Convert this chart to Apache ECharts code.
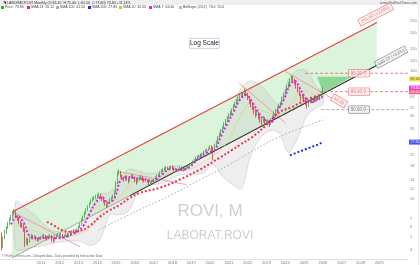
<!DOCTYPE html>
<html><head><meta charset="utf-8">
<script src="https://cdn.jsdelivr.net/npm/echarts@6/dist/echarts.min.js"></script>
<style>html,body{margin:0;padding:0;background:#fff}#c{width:420px;height:265px}</style>
</head><body><div id="c"></div>
<script>
// ---------- DATA ----------
const firstMonth = '2008-12';
const firstOpen = 5.30;
const closes = [4.27,
 4.93,5.50,5.91,6.33,6.82,7.19,7.59,7.87,7.32,6.94,6.57,6.23,
 6.12,5.80,4.52,4.75,4.59,4.93,5.11,4.93,5.02,4.84,4.75,4.93,
 4.93,5.02,5.11,4.93,4.84,5.02,5.11,4.93,4.75,4.93,5.11,5.20,
 5.11,5.20,5.02,5.11,5.30,5.11,5.20,5.39,5.50,5.60,5.50,5.69,
 6.01,6.33,6.82,7.19,7.73,8.17,8.63,9.10,9.61,9.97,10.15,10.33,
 10.52,10.70,10.33,9.97,9.61,9.10,8.78,9.27,9.79,10.15,10.52,11.30,
 13.30,15.70,16.20,15.10,14.60,14.00,14.90,14.30,13.80,14.60,15.10,14.90,
 14.30,13.60,14.00,14.60,14.90,14.30,13.80,14.00,13.60,13.10,13.30,13.80,
 14.00,14.60,15.10,15.40,15.90,16.50,16.80,17.10,17.50,17.10,17.50,17.80,
 17.50,16.80,17.10,16.50,16.80,17.50,17.10,16.80,17.10,17.80,18.10,18.40,
 18.80,19.40,20.10,20.90,21.20,21.60,22.00,22.40,23.30,23.70,24.10,24.60,
 25.50,24.10,23.30,26.00,27.90,30.00,32.20,34.00,36.00,38.60,40.80,43.00,
 45.40,47.10,49.70,53.40,55.40,58.40,61.80,64.00,66.40,65.10,70.10,66.40,
 61.80,58.40,55.40,51.50,48.80,46.20,47.10,43.80,41.50,40.00,43.00,39.30,
 39.30,40.80,38.60,41.50,43.80,47.10,48.80,51.50,53.40,55.40,61.80,66.40,
 70.10,75.40,79.40,85.40,90.30,85.40,80.80,75.40,70.10,65.10,61.80,64.00,
 60.70,56.40,54.40,57.40,59.50,60.70,58.40,59.50,61.80,60.70,62.90,66.40,
 73.80];
const lows = [3.95,
 4.10,4.80,5.30,5.80,6.20,6.70,7.00,7.40,7.10,6.70,6.30,6.00,
 5.90,5.50,4.20,4.35,4.30,4.50,4.80,4.80,4.85,4.70,4.60,4.65,
 4.75,4.85,4.90,4.80,4.70,4.80,4.90,4.60,4.50,4.65,4.85,5.00,
 4.95,5.00,4.90,4.90,5.00,4.95,5.00,5.10,5.25,5.35,5.30,5.40,
 5.60,5.90,6.20,6.70,7.10,7.50,8.00,8.50,9.00,9.40,9.70,9.90,
 10.00,10.20,10.00,9.60,9.30,8.80,8.50,8.60,9.10,9.50,10.00,10.40,
 11.10,13.00,15.30,14.70,14.20,13.60,13.80,13.90,13.20,13.60,14.30,14.40,
 13.50,12.90,13.40,13.80,14.30,13.70,13.40,13.60,13.30,12.80,12.70,13.10,
 13.60,13.90,14.50,14.90,15.20,15.70,16.20,16.50,16.90,16.80,16.90,17.20,
 17.10,16.40,16.50,16.20,16.30,16.60,16.80,16.40,16.60,16.90,17.50,17.80,
 18.10,18.60,19.20,19.90,20.50,20.90,21.30,21.70,22.10,23.00,23.40,23.80,
 24.30,23.60,20.00,23.00,25.60,27.50,29.50,31.50,33.30,35.50,37.80,40.00,
 42.00,44.00,46.00,49.00,52.00,54.50,57.50,60.50,62.00,62.50,64.00,64.00,
 59.50,55.50,52.00,49.50,46.00,43.50,44.50,42.00,39.50,37.50,39.50,38.00,
 37.50,38.50,36.50,38.00,40.50,43.00,46.00,48.00,50.50,52.00,54.50,60.50,
 65.00,69.00,74.00,78.00,84.00,83.50,78.50,73.00,68.00,63.50,58.50,60.50,
 59.00,54.50,51.00,52.50,56.00,58.00,56.50,57.00,58.50,59.00,59.50,61.50,
 65.50];
const highs = [5.45,
 5.05,5.70,6.10,6.60,7.10,7.50,7.90,8.30,8.00,7.50,7.10,6.70,
 6.50,6.30,5.90,4.95,4.90,5.10,5.30,5.20,5.20,5.10,4.95,5.05,
 5.10,5.20,5.30,5.20,5.05,5.15,5.30,5.20,5.00,5.05,5.25,5.35,
 5.30,5.40,5.30,5.25,5.45,5.40,5.35,5.50,5.65,5.80,5.70,5.85,
 6.20,6.50,7.00,7.40,7.95,8.40,8.90,9.40,9.90,10.30,10.50,10.70,
 10.90,11.20,11.00,10.50,10.10,9.80,9.30,9.50,10.10,10.40,10.80,11.60,
 13.70,16.20,17.00,16.50,15.50,14.90,15.30,15.20,14.60,15.00,15.60,15.50,
 15.00,14.50,14.40,15.00,15.40,15.10,14.50,14.40,14.20,13.80,13.70,14.10,
 14.40,15.00,15.50,15.80,16.40,17.00,17.30,17.60,18.00,17.80,18.00,18.20,
 18.30,17.80,17.50,17.30,17.20,17.90,17.80,17.40,17.50,18.20,18.60,18.90,
 19.30,19.90,20.60,21.40,21.80,22.10,22.60,22.90,23.80,24.30,24.70,25.20,
 26.20,26.30,25.50,26.80,28.60,30.90,33.10,35.20,37.00,39.80,42.10,44.50,
 47.00,48.80,51.20,55.00,57.20,60.10,63.50,66.30,68.90,68.50,73.50,71.50,
 68.00,63.00,60.00,57.00,53.00,50.50,49.50,48.00,45.00,42.50,44.50,43.80,
 41.50,42.00,41.50,42.80,45.00,48.50,50.50,53.00,55.50,57.50,63.00,68.00,
 72.50,77.50,82.00,88.00,93.00,91.50,87.00,82.00,77.00,71.50,66.50,66.00,
 65.50,62.00,58.50,59.50,61.50,62.50,62.00,61.00,63.50,63.00,64.50,68.00,
 75.00];

// moving averages and bands (dates + values)
const fastDates = ['2009-06','2009-10','2010-02','2010-06','2010-12','2011-06','2011-12','2012-06','2012-12','2013-04','2013-08','2013-12','2014-04','2014-08','2014-12','2015-04','2015-08','2015-12','2016-06','2016-12','2017-06','2017-12','2018-06','2018-12','2019-06','2019-12','2020-04','2020-08','2020-12','2021-04','2021-08','2021-12','2022-04','2022-08','2022-12','2023-04','2023-08','2023-12','2024-04','2024-07','2024-10','2025-01','2025-05','2025-09','2026-01'];
const fastVals = [6.3,7.3,6.5,5.1,4.9,5.0,4.9,5.1,5.5,6.1,7.6,9.3,10.3,9.3,10.1,14.0,14.8,14.6,14.3,13.8,15.4,17.1,16.8,17.7,20.9,23.3,24.1,31.0,38.7,47.7,59.5,65.0,57.0,47.2,41.5,40.0,48.8,59.5,78.0,84.0,74.6,64.0,57.0,59.5,63.4];
const slowDates = ['2011-05','2011-10','2012-02','2012-07','2013-02','2013-08','2014-02','2014-08','2015-03','2015-09','2016-04','2017-05','2018-05','2019-06','2020-07','2021-03','2021-08','2022-04','2023-01','2023-09','2024-05','2025-02','2025-11'];
const slowVals = [6.6,6.1,5.7,5.5,5.6,6.1,7.1,8.0,8.9,10.0,11.1,12.2,14.0,16.8,20.9,24.1,26.4,30.5,37.9,47.6,52.0,59.5,65.0];
const longDates = ['2014-02','2016-04','2017-11','2019-06','2021-01','2022-02','2023-09','2026-01'];
const longVals = [5.7,8.2,10.5,14.0,18.4,23.0,30.5,41.5];
const blueDates = ['2024-04','2024-10','2025-04','2025-10','2026-01'];
const blueVals = [21.9,23.4,25.0,26.6,27.8];
const bbDates = ['2009-09','2010-03','2010-09','2011-03','2011-09','2012-03','2012-09','2013-03','2013-09','2014-03','2014-09','2015-03','2015-09','2016-03','2016-09','2017-03','2017-09','2018-03','2018-09','2019-03','2019-09','2020-03','2020-09','2021-03','2021-09','2022-03','2022-09','2023-03','2023-09','2024-03','2024-09','2025-03','2025-09','2026-01'];
const bbUpper = [9.5,8.5,7.5,6.3,5.6,5.5,5.6,6.3,8.3,10.8,11.2,14.0,17.0,16.5,15.8,16.0,17.5,18.2,18.0,20.0,23.5,25.5,36,50,74,84,78,65,55,86,102,100,75,70];
const bbLower = [4.0,4.0,4.2,4.3,4.5,4.6,4.7,4.6,4.3,4.8,7.5,7.5,8.0,11.5,12.8,13.0,13.5,15.0,15.6,15.5,16.0,18.5,15,13,12,22,30,34,33,23,30,45,52,55];
const bbMid = [6.2,5.8,5.6,5.2,5.0,5.05,5.1,5.4,6.0,7.6,9.2,10.3,12.5,14.2,14.3,14.4,15.4,16.5,16.8,17.6,19.5,21.7,25,32,46,56,50,47,45,52,65,70,63,62];

// drawn trend objects: [date, price]
const upperChannel = [['2009-06-20',7.87],['2028-11-15',241]];
const lowerChannel = [['2009-06-20',3.44],['2029-04-22',120.2]];
const lowerDark = [['2015-09-30',10.58],['2029-04-22',120.2]];
const channelFill = [['2009-06-20',7.87],['2028-11-15',241],['2028-11-15',111.2],['2009-06-20',3.44]];
const trend1 = [['2009-07-08',7.87],['2013-02-01',4.19]];
const trend2 = [['2015-01-20',16.4],['2018-10-01',12.9]];
const trend3 = [['2021-07-20',80.8],['2024-01-01',39.3]];
const trend4 = [['2023-11-16',102],['2027-03-06',53.4]];
const projFill = [['2025-09-08',90.3],['2027-07-20',90.3],['2026-01-05',67.7]];
const hLevels = [96.3, 69.1, 50.0];
const hStart = ['2025-01-20','2025-11-05','2025-12-01'];
const hColors = ['#e85a5a','#e85a5a','#999999'];
const yTicks = [4,5,6,7,10,12,14,18,22,28,35,45,52,63,85,100,120,150,200,250];
const xYears = [2010,2011,2012,2013,2014,2015,2016,2017,2018,2019,2020,2021,2022,2023,2024,2025,2026,2027,2028,2029,2030];
const axisTagVals = [87.0, 73.8, 69.0, 27.8];
const axisTagColors = ['#f2e030','#e020e0','#f04070','#2030e0'];
const axisTagText = ['#333','#fff','#fff','#fff'];

// ---------- BUILD ----------
const T = s => +new Date(s.length === 7 ? s + '-01' : s);
const months = closes.map((_, i) => {
  const [y0, m0] = firstMonth.split('-').map(Number);
  const k = m0 - 1 + i;
  return (y0 + Math.floor(k / 12)) + '-' + String(k % 12 + 1).padStart(2, '0') + '-01';
});
const candles = closes.map((c, i) => [T(months[i]), i === 0 ? firstOpen : closes[i - 1], c, lows[i], highs[i]]);
const pairs = (d, v) => d.map((x, i) => [T(x), v[i]]);
const pts = a => a.map(p => [T(p[0]), p[1]]);

function polygon(points, style, z) {
  const P = pts(points);
  return {type: 'custom', z: z, silent: true, clip: true, data: [P[0]],
    renderItem: (params, api) => ({type: 'polygon', shape: {points: P.map(p => api.coord(p))}, style: style})};
}
function bandPoly(d, up, lo, style, z) {
  const P = pairs(d, up).concat(pairs(d, lo).reverse());
  return {type: 'custom', z: z, silent: true, clip: true, data: [P[0]],
    renderItem: (params, api) => ({type: 'polygon', shape: {points: P.map(p => api.coord(p)), smooth: 0.3}, style: style})};
}
function seg(points, color, width, type, z) {
  return {type: 'line', data: pts(points), showSymbol: false, silent: true, z: z,
    lineStyle: {color: color, width: width, type: type || 'solid'}};
}
function maLine(d, v, color, width, type, z, smooth) {
  return {type: 'line', data: pairs(d, v), showSymbol: false, silent: true, z: z, smooth: smooth === undefined ? 0.4 : smooth,
    lineStyle: {color: color, width: width, type: type}};
}
const xMin = T('2008-10-30');
const xMax = T('2030-07-12');
const series = [
  polygon(channelFill, {fill: 'rgba(190,235,190,0.55)'}, 1),
  bandPoly(bbDates, bbUpper, bbLower, {fill: 'rgba(200,200,200,0.3)', stroke: 'rgba(170,170,170,0.6)', lineWidth: 0.6}, 2),
  polygon(projFill, {fill: 'rgba(80,190,90,0.55)'}, 3),
  seg(upperChannel, '#e04848', 1.3, 'solid', 5),
  seg(lowerChannel, '#9aaa9a', 1, 'solid', 5),
  seg(lowerDark, '#333333', 1.1, 'solid', 6),
  seg(trend1, '#f08a8a', 0.8, 'solid', 5),
  seg(trend2, '#f08a8a', 0.8, 'solid', 5),
  seg(trend3, '#f08a8a', 0.8, 'solid', 5),
  seg(trend4, '#f08a8a', 0.8, 'solid', 5),
  maLine(bbDates, bbMid, '#d8d27a', 0.7, 'solid', 7),
  maLine(longDates, longVals, '#aaaaaa', 1, [1.5, 2], 7),
  maLine(slowDates, slowVals, '#f0304a', 2, [2, 2], 9),
  maLine(blueDates, blueVals, '#2030e0', 2, [2, 2], 9, 0),
  {type: 'candlestick', data: candles, barWidth: 1.2, z: 8,
   itemStyle: {color: '#2fae3a', color0: '#e0303a', borderColor: '#2fae3a', borderColor0: '#e0303a', borderWidth: 0.8}},
  maLine(fastDates, fastVals, '#e020e0', 2, [2, 2], 10),
];
hLevels.forEach((v, i) => {
  series.push({type: 'line', data: [[T(hStart[i]), v], [xMax, v]], showSymbol: false, silent: true, z: 6,
    lineStyle: {color: hColors[i], width: 0.8, type: [3, 2]}});
});
const tagLabel = (txt, color, bg, rot) => ({show: true, formatter: txt, position: 'inside', rotate: rot || 0,
  fontSize: 4.5, color: color, backgroundColor: bg, borderColor: color, borderWidth: 0.5, padding: [1, 2], fontFamily: 'Liberation Sans'});
series.push({type: 'scatter', symbolSize: 0, z: 20, silent: true, clip: false, data: [
  {value: [T('2027-12-05'), 96.3], label: tagLabel('96.30 ⚲', '#e05050', '#fff0f0')},
  {value: [T('2027-12-05'), 69.1], label: tagLabel('69.10 ⚲', '#e05050', '#fff0f0')},
  {value: [T('2027-12-05'), 50.0], label: tagLabel('50.00 ⚲', '#555555', '#f4f4f4')},
  {value: [T('2028-10-20'), 278], label: tagLabel('241.00 (+226%)', '#e05050', '#fff0f0', 27)},
  {value: [T('2029-08-17'), 129], label: tagLabel('120.20 (+62%)', '#555555', '#f4f4f4', 28)},
  {value: [T('2026-11-10'), 58.5], label: tagLabel('58.50', '#e05050', '#fff0f0', -30)},
]});
// right-axis tick labels placed on the log scale
series.push({type: 'scatter', symbolSize: 0, z: 20, silent: true, clip: false,
  data: yTicks.map(v => [xMax, v]),
  label: {show: true, position: 'right', distance: 2, fontSize: 4, color: '#666', formatter: p => String(p.value[1]), fontFamily: 'Liberation Sans'}});
// coloured value tags on the right axis
series.push({type: 'scatter', symbolSize: 0, z: 21, silent: true, clip: false,
  data: axisTagVals.map((v, i) => ({value: [xMax, v], label: {show: true, position: 'right', distance: 1, fontSize: 4,
    formatter: v.toFixed(2), color: axisTagText[i], backgroundColor: axisTagColors[i], padding: [0.5, 1.5], fontFamily: 'Liberation Sans'}}))});

const option = {
  animation: false,
  backgroundColor: '#ffffff',
  grid: {left: 0, right: 12, top: 10, bottom: 6},
  xAxis: {type: 'value', min: xMin, max: xMax, scale: true,
    axisLine: {lineStyle: {color: '#cccccc', width: 0.6}}, axisTick: {show: false}, splitLine: {show: false},
    axisLabel: {fontSize: 4, color: '#777', margin: 1.5, showMinLabel: false, showMaxLabel: false,
      customValues: xYears.map(y => T(y + '-01-01')), formatter: v => String(new Date(v).getUTCFullYear())}},
  yAxis: {type: 'log', position: 'right', min: 3.37, max: 301.8, logBase: 10,
    axisLine: {show: false}, axisTick: {show: false}, splitLine: {show: false}, axisLabel: {show: false}},
  series: series,
  graphic: [
    {type: 'rect', shape: {x: 0, y: 0, width: 420, height: 5}, style: {fill: '#efefef'}, silent: true},
    {type: 'text', left: 3, top: 0.5, style: {text: '\u25E5 LABORAT.ROVI Monthly (O:66.40  H:75.00  L:65.50  C:73.80) 73.80 +11.14%', fontSize: 3.6, fill: '#333', fontFamily: 'Liberation Sans'}},
    {type: 'text', right: 3, top: 0.5, style: {text: 'www.ProRealTime.com', fontSize: 3.6, fill: '#555', fontFamily: 'Liberation Sans'}},
    {type: 'group', left: 1, top: 5.5, children: [
      {type: 'rect', shape: {x: 0, y: 0.5, width: 3, height: 3}, style: {fill: '#2fae3a'}},
      {type: 'text', x: 4, y: 0, style: {text: 'Price  73.80', fontSize: 3.5, fill: '#444'}},
      {type: 'rect', shape: {x: 26, y: 0.5, width: 3, height: 3}, style: {fill: '#e0303a'}},
      {type: 'text', x: 30, y: 0, style: {text: 'SMA 24  65.12', fontSize: 3.5, fill: '#444'}},
      {type: 'rect', shape: {x: 55, y: 0.5, width: 3, height: 3}, style: {fill: '#aaaaaa'}},
      {type: 'text', x: 59, y: 0, style: {text: 'SMA 100  41.50', fontSize: 3.5, fill: '#444'}},
      {type: 'rect', shape: {x: 87, y: 0.5, width: 3, height: 3}, style: {fill: '#2030e0'}},
      {type: 'text', x: 91, y: 0, style: {text: 'SMA 200  27.80', fontSize: 3.5, fill: '#444'}},
      {type: 'rect', shape: {x: 118, y: 0.5, width: 3, height: 3}, style: {fill: '#c8c050'}},
      {type: 'text', x: 122, y: 0, style: {text: 'SMA 20  62.00', fontSize: 3.5, fill: '#444'}},
      {type: 'rect', shape: {x: 148, y: 0.5, width: 3, height: 3}, style: {fill: '#e020e0'}},
      {type: 'text', x: 152, y: 0, style: {text: 'SMA 7  63.40', fontSize: 3.5, fill: '#444'}},
      {type: 'rect', shape: {x: 178, y: 0.5, width: 3, height: 3}, style: {fill: '#bbbbbb'}},
      {type: 'text', x: 182, y: 0, style: {text: 'Bollinger (20,2)  70.0  55.0', fontSize: 3.5, fill: '#444'}}
    ]},
    {type: 'group', left: 189, top: 38, children: [
      {type: 'rect', shape: {x: 0, y: 0, width: 30, height: 10, r: 1}, style: {fill: '#fff', stroke: '#b8c4e0', lineWidth: 0.8}},
      {type: 'text', x: 15, y: 5, style: {text: 'Log Scale', fontSize: 6.5, fill: '#222', align: 'center', verticalAlign: 'middle', fontFamily: 'Liberation Sans'}}
    ]},
    {type: 'text', left: 'center', top: 203, z: -1, style: {text: 'ROVI, M', fontSize: 17, fill: '#cfcfcf', fontFamily: 'Liberation Sans'}},
    {type: 'text', left: 'center', top: 230, z: -1, style: {text: 'LABORAT.ROVI', fontSize: 12, fill: '#cfcfcf', fontFamily: 'Liberation Sans'}},
    {type: 'text', left: 2, top: 255, style: {text: '\u00A9 ProRealTime.com - Delayed data - Data provided by Interactive Data', fontSize: 3.2, fill: '#666', fontFamily: 'Liberation Sans'}},
    {type: 'line', shape: {x1: 418.5, y1: 5, x2: 418.5, y2: 265}, style: {stroke: '#dddddd', lineWidth: 0.6}, silent: true}
  ]
};
const chart = echarts.init(document.getElementById('c'), null, {width: 420, height: 265});
chart.setOption(option);
</script></body></html>
